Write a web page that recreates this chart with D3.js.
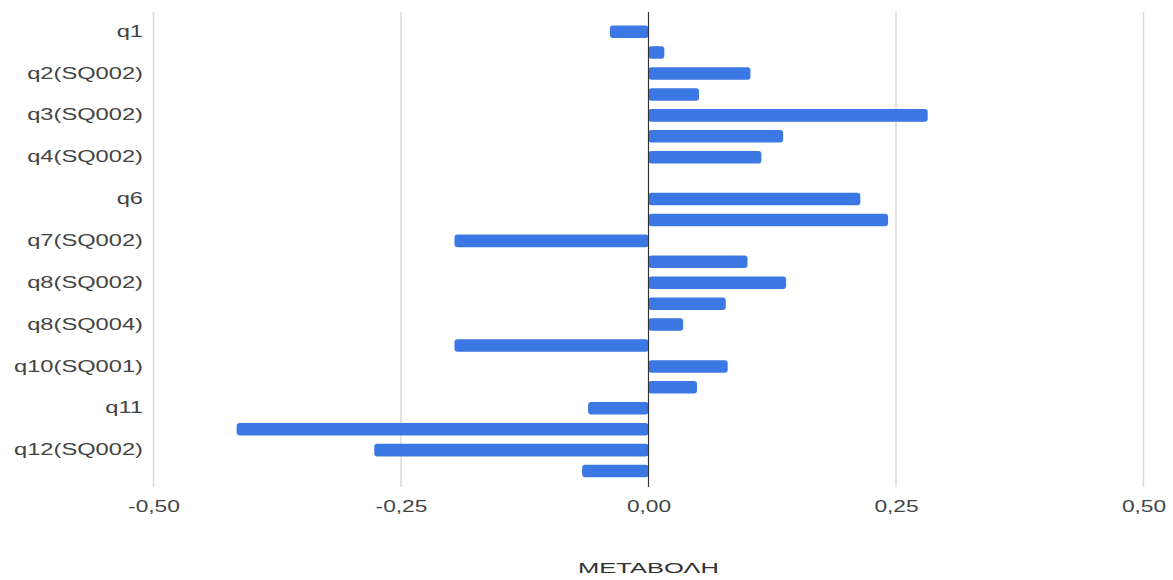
<!DOCTYPE html>
<html>
<head>
<meta charset="utf-8">
<script src="https://cdn.jsdelivr.net/npm/d3@7"></script>
<style>
  html, body { margin: 0; padding: 0; background: #fff; }
  svg { display: block; }
  text { font-family: "Liberation Sans", Arial, sans-serif; }
</style>
</head>
<body>
<svg id="chart" width="1173" height="580"></svg>
<script>
const categories = ["q1","q2(SQ001)","q2(SQ002)","q3(SQ001)","q3(SQ002)","q4(SQ001)","q4(SQ002)","q5","q6","q7(SQ001)","q7(SQ002)","q8(SQ001)","q8(SQ002)","q8(SQ003)","q8(SQ004)","q9","q10(SQ001)","q10(SQ002)","q11","q12(SQ001)","q12(SQ002)","q12(SQ003)"];
const values = [-0.039,0.016,0.103,0.051,0.282,0.136,0.114,0,0.214,0.242,-0.196,0.100,0.139,0.078,0.035,-0.196,0.080,0.049,-0.061,-0.416,-0.277,-0.067];
const shownLabels = ["q1","q2(SQ002)","q3(SQ002)","q4(SQ002)","q6","q7(SQ002)","q8(SQ002)","q8(SQ004)","q10(SQ001)","q11","q12(SQ002)"];
const xTicks = [-0.5,-0.25,0,0.25,0.5];
const xTickLabels = ["-0,50","-0,25","0,00","0,25","0,50"];
const axisTitle = "ΜΕΤΑΒΟΛΗ";

const svg = d3.select("#chart");
const x = d3.scaleLinear().domain([-0.5,0.5]).range([153.5,1143.5]);
const y = d3.scaleBand().domain(categories).range([21.2,481.5]).paddingInner(0.4).paddingOuter(0.2);
const gridTop = 12, gridBottom = 487;

function stretch(sel, factor) {
  sel.each(function() {
    const w = this.getComputedTextLength();
    d3.select(this).attr("textLength", w * factor).attr("lengthAdjust", "spacingAndGlyphs");
  });
}

// gridlines
svg.append("g").selectAll("line").data(xTicks.filter(d => d !== 0)).join("line")
  .attr("x1", d => x(d)).attr("x2", d => x(d))
  .attr("y1", gridTop).attr("y2", gridBottom)
  .attr("stroke", "#d9d9d9").attr("stroke-width", 1.5);

// bars
svg.append("g").selectAll("rect").data(categories.map((c,i)=>({c, v: values[i]}))).join("rect")
  .attr("x", d => x(Math.min(0,d.v)))
  .attr("width", d => Math.abs(x(d.v) - x(0)))
  .attr("y", d => y(d.c))
  .attr("height", y.bandwidth())
  .attr("rx", 3)
  .attr("fill", "#3b78e4");

// zero line
svg.append("line").attr("x1", x(0)).attr("x2", x(0)).attr("y1", gridTop).attr("y2", gridBottom)
  .attr("stroke", "#333").attr("stroke-width", 1.2);

// y axis labels
const yAxis = d3.axisLeft(y).tickValues(shownLabels).tickSize(0).tickPadding(0);
const gy = svg.append("g").attr("transform", "translate(143,0)").call(yAxis);
gy.select(".domain").remove();
gy.selectAll("text").attr("font-size", 16).attr("fill", "#444").attr("font-family", "Liberation Sans, Arial, sans-serif");
stretch(gy.selectAll("text"), 1.48);

// x axis labels
const xAxis = d3.axisBottom(x).tickValues(xTicks).tickSize(0).tickPadding(0)
  .tickFormat((d,i) => xTickLabels[i]);
const gx = svg.append("g").attr("transform", "translate(0,501)").call(xAxis);
gx.select(".domain").remove();
gx.selectAll("text").attr("font-size", 16).attr("fill", "#444").attr("font-family", "Liberation Sans, Arial, sans-serif");
stretch(gx.selectAll("text"), 1.42);

const title = svg.append("text").attr("x", x(0)).attr("y", 573).attr("text-anchor", "middle")
  .attr("font-size", 15).attr("fill", "#333").text(axisTitle);
stretch(title, 1.7);
</script>
</body>
</html>
